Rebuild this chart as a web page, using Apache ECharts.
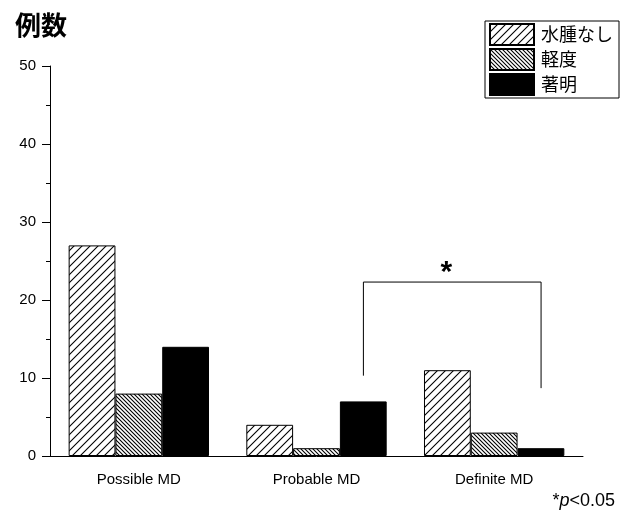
<!doctype html>
<html lang="ja">
<head>
<meta charset="utf-8">
<title>例数</title>
<script src="https://cdn.jsdelivr.net/npm/echarts@6/dist/echarts.min.js"></script>
<style>
  html, body { margin: 0; padding: 0; background: #fff; }
  #main { width: 621px; height: 514px; }
</style>
</head>
<body>
<div id="main"></div>
<script>
var categories = ['Possible MD', 'Probable MD', 'Definite MD'];
var seriesNames = ['水腫なし', '軽度', '著明'];
var noEdema = [27, 4, 11];
var mild = [8, 1, 3];
var marked = [14, 7, 1];
// bracket: from category, to category, top, left leg end, right leg end
var bracket = [[1, 2, 22.3, 10.3, 8.7]];

// hatch patterns
function hatch(step, dir) {
    var c = document.createElement('canvas');
    c.width = step; c.height = step;
    var ctx = c.getContext('2d');
    ctx.fillStyle = '#fff';
    ctx.fillRect(0, 0, step, step);
    ctx.strokeStyle = '#000';
    ctx.lineWidth = 1.1;
    ctx.beginPath();
    if (dir > 0) {
        ctx.moveTo(-1, step + 1); ctx.lineTo(step + 1, -1);
        ctx.moveTo(-1, 1); ctx.lineTo(1, -1);
        ctx.moveTo(step - 1, step + 1); ctx.lineTo(step + 1, step - 1);
    } else {
        ctx.moveTo(-1, -1); ctx.lineTo(step + 1, step + 1);
        ctx.moveTo(step - 1, -1); ctx.lineTo(step + 1, 1);
        ctx.moveTo(-1, step - 1); ctx.lineTo(1, step + 1);
    }
    ctx.stroke();
    return c;
}

var myChart = echarts.init(document.getElementById('main'));
var font = 'Liberation Sans, Arial, sans-serif';
var jp = '"Noto Sans CJK JP", sans-serif';

function barSeries(name, data, color) {
    return {
        name: name,
        type: 'bar',
        data: data,
        barGap: '0%',
        barCategoryGap: '21%',
        itemStyle: { color: color, borderColor: '#000', borderWidth: 1 },
        emphasis: { disabled: true }
    };
}

var option = {
    animation: false,
    backgroundColor: '#fff',
    title: {
        text: '例数',
        left: 10,
        top: 7,
        textStyle: { fontFamily: jp, fontSize: 26, fontWeight: 'bold', color: '#000' }
    },
    legend: {
        orient: 'vertical',
        right: 2,
        top: 21,
        itemWidth: 44,
        itemHeight: 21,
        itemGap: 2,
        padding: [2, 6, 2, 4],
        borderColor: '#000',
        borderWidth: 1,
        icon: 'rect',
        textStyle: { fontFamily: jp, fontSize: 18, color: '#000', padding: [0, 0, 0, 2] },
        data: seriesNames
    },
    grid: { left: 50, right: 38, top: 66, bottom: 58 },
    xAxis: [{
        type: 'category',
        data: categories,
        axisLine: { lineStyle: { color: '#000', width: 1 } },
        axisTick: { alignWithLabel: true, length: 8, lineStyle: { color: '#000' } },
        axisLabel: { color: '#000', fontFamily: font, fontSize: 15, margin: 16 }
    }, {
        type: 'category',
        data: categories,
        position: 'bottom',
        axisLine: { show: false },
        axisTick: { length: 4, lineStyle: { color: '#000' } },
        axisLabel: { show: false }
    }],
    yAxis: {
        type: 'value',
        min: 0,
        max: 50,
        interval: 10,
        axisLine: { show: true, lineStyle: { color: '#000', width: 1 } },
        axisTick: { show: true, length: 8, lineStyle: { color: '#000' } },
        minorTick: { show: true, splitNumber: 2, length: 4, lineStyle: { color: '#000' } },
        splitLine: { show: false },
        axisLabel: { color: '#000', fontFamily: font, fontSize: 15, margin: 14 }
    },
    series: [
        barSeries(seriesNames[0], noEdema, { image: hatch(8, 1), repeat: 'repeat' }),
        barSeries(seriesNames[1], mild, { image: hatch(4, -1), repeat: 'repeat' }),
        barSeries(seriesNames[2], marked, '#000'),
        {
            type: 'custom',
            data: bracket,
            encode: { x: 0, y: 2 },
            silent: true,
            z: 5,
            renderItem: function (params, api) {
                var bw = api.size([1, 0])[0];
                var off = bw * 0.264;
                var top = api.coord([api.value(0), api.value(2)])[1];
                var x1 = api.coord([api.value(0), 0])[0] + off;
                var x2 = api.coord([api.value(1), 0])[0] + off;
                var y1 = api.coord([0, api.value(3)])[1];
                var y2 = api.coord([0, api.value(4)])[1];
                return {
                    type: 'group',
                    children: [{
                        type: 'polyline',
                        shape: { points: [[x1, y1], [x1, top], [x2, top], [x2, y2]] },
                        style: { stroke: '#000', lineWidth: 1, fill: null }
                    }, {
                        type: 'text',
                        style: {
                            text: '*', x: (x1 + x2) / 2 - 6, y: top - 9,
                            align: 'center', verticalAlign: 'middle',
                            font: 'bold 30px ' + font, fill: '#000'
                        }
                    }]
                };
            }
        }
    ],
    graphic: [{
        type: 'text',
        right: 6,
        bottom: 4,
        style: {
            text: '*{i|p}<0.05',
            font: '18px ' + font,
            fill: '#000',
            rich: { i: { fontStyle: 'italic', fontSize: 18, fontFamily: font } }
        }
    }]
};

myChart.setOption(option);
</script>
</body>
</html>
